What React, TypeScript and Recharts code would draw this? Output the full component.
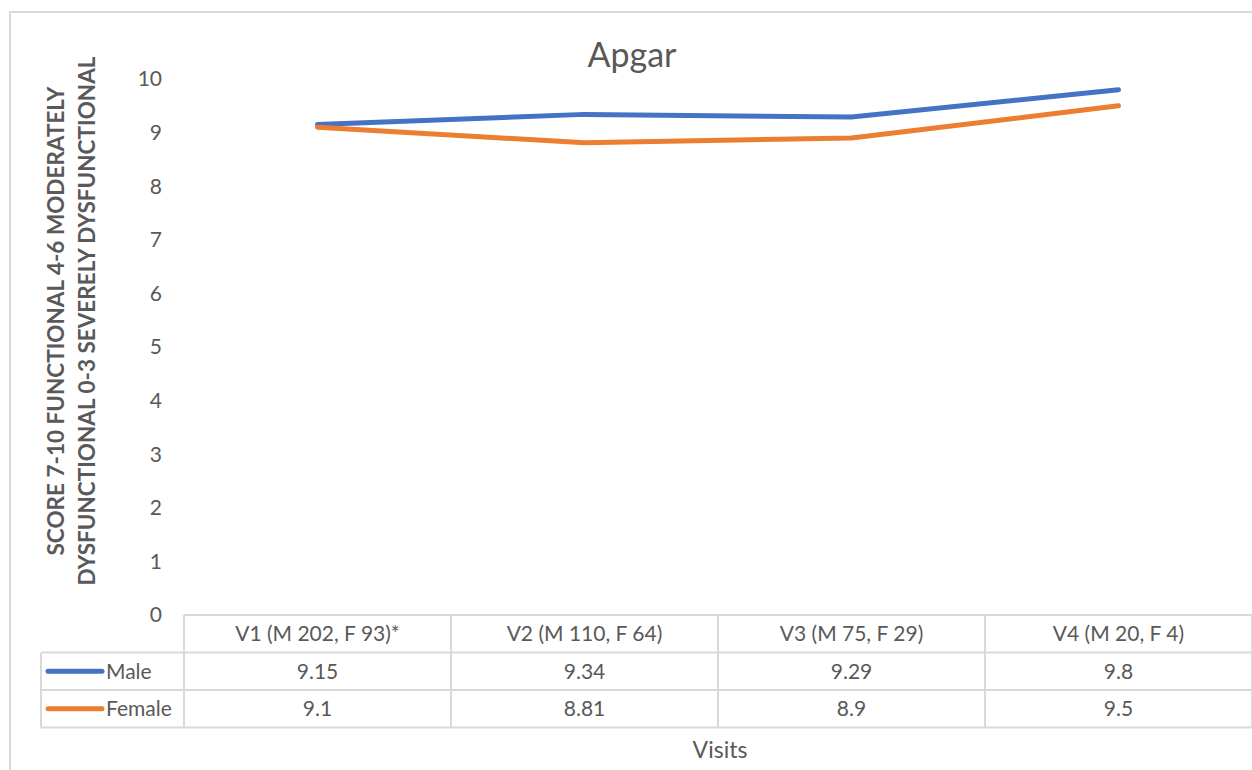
import React from "react";
import { LineChart, Line, XAxis, YAxis } from "recharts";

// Visits (categories) and the Apgar scores per sex
const visits = ["V1 (M 202, F 93)*", "V2 (M 110, F 64)", "V3 (M 75, F 29)", "V4 (M 20, F 4)"];
const male = [9.15, 9.34, 9.29, 9.8];
const female = [9.1, 8.81, 8.9, 9.5];
const yTicks = [0, 1, 2, 3, 4, 5, 6, 7, 8, 9, 10];

const seriesInfo = [
  { key: "male", name: "Male", color: "#4472C4", values: male },
  { key: "female", name: "Female", color: "#ED7D31", values: female },
];

const data = visits.map((v, i) => ({ visit: v, male: male[i], female: female[i] }));

const W = 1252;
const H = 770;
const PLOT_LEFT = 184;
const BAND = (W - PLOT_LEFT) / visits.length;
const ROW = 37.5;
const TABLE_LEFT = 41;
const GRID = "#d9d9d9";
const TEXT = "#595959";
const FONT = "Lato, 'Open Sans', sans-serif";
const FS = 21;

const TableTick = (props: any) => {
  const { x, y, payload } = props;
  const i = payload.index;
  const last = i === visits.length - 1;
  return (
    <g>
      {i === 0 && (
        <g>
          {[1, 2, 3].map((r) => (
            <line key={r} x1={TABLE_LEFT} x2={W} y1={y + ROW * r} y2={y + ROW * r} stroke={GRID} strokeWidth={2} />
          ))}
          <line x1={TABLE_LEFT} x2={TABLE_LEFT} y1={y + ROW} y2={y + ROW * 3} stroke={GRID} strokeWidth={2} />
          {seriesInfo.map((s, r) => (
            <g key={s.key}>
              <line
                x1={48}
                x2={102}
                y1={y + ROW * (r + 1.5)}
                y2={y + ROW * (r + 1.5)}
                stroke={s.color}
                strokeWidth={5}
                strokeLinecap="round"
              />
              <text x={106} y={y + ROW * (r + 1.5)} dy="0.35em" fontSize={FS} fill={TEXT} fontFamily={FONT}>
                {s.name}
              </text>
            </g>
          ))}
        </g>
      )}
      <line x1={x - BAND / 2} x2={x - BAND / 2} y1={y} y2={y + ROW * 3} stroke={GRID} strokeWidth={2} />
      {last && <line x1={x + BAND / 2} x2={x + BAND / 2} y1={y} y2={y + ROW * 3} stroke={GRID} strokeWidth={2} />}
      <text x={x} y={y + ROW * 0.5} dy="0.35em" textAnchor="middle" fontSize={FS} fill={TEXT} fontFamily={FONT}>
        {payload.value}
      </text>
      {seriesInfo.map((s, r) => (
        <text
          key={s.key}
          x={x}
          y={y + ROW * (r + 1.5)}
          dy="0.35em"
          textAnchor="middle"
          fontSize={FS}
          fill={TEXT}
          fontFamily={FONT}
        >
          {String(s.values[i])}
        </text>
      ))}
    </g>
  );
};

const YLabel = (props: any) => {
  const cy = 321;
  const lines = ["SCORE 7-10 FUNCTIONAL 4-6 MODERATELY", "DYSFUNCTIONAL 0-3 SEVERELY DYSFUNCTIONAL"];
  const xs = [56, 87];
  return (
    <g>
      {lines.map((l, k) => (
        <text
          key={k}
          x={xs[k]}
          y={cy}
          dy="0.35em"
          transform={`rotate(-90 ${xs[k]} ${cy})`}
          textAnchor="middle"
          fontSize={22.5}
          fontWeight="bold"
          fill={TEXT}
          fontFamily={FONT}
        >
          {l}
        </text>
      ))}
    </g>
  );
};

export default function App() {
  return (
    <div style={{ position: "absolute", left: 0, top: 0, width: W, height: H, overflow: "hidden", background: "#fff" }}>
      <div
        style={{
          position: "absolute",
          left: 9,
          top: 11,
          width: W + 20,
          height: H + 20,
          border: `2px solid ${GRID}`,
        }}
      />
      <div
        style={{
          position: "absolute",
          left: 0,
          width: W,
          top: 33,
          textAlign: "center",
          fontFamily: FONT,
          fontSize: 34,
          color: TEXT,
          paddingLeft: 12,
          boxSizing: "border-box",
        }}
      >
        Apgar
      </div>
      <div
        style={{
          position: "absolute",
          left: 720 - 100,
          width: 200,
          top: 735,
          textAlign: "center",
          fontFamily: FONT,
          fontSize: 23,
          color: TEXT,
        }}
      >
        Visits
      </div>
      <div style={{ position: "absolute", left: 0, top: 0 }}>
        <LineChart width={W} height={H} data={data} margin={{ top: 79, right: 0, bottom: 43, left: 124 }}>
          <XAxis
            dataKey="visit"
            height={112}
            padding={{ left: BAND / 2, right: BAND / 2 }}
            axisLine={{ stroke: GRID, strokeWidth: 2 }}
            tickLine={false}
            tickSize={0}
            tickMargin={0}
            interval={0}
            tick={<TableTick />}
          />
          <YAxis
            width={60}
            domain={[0, 10]}
            ticks={yTicks}
            axisLine={false}
            tickLine={false}
            tickMargin={16}
            tick={{ fontSize: FS, fill: TEXT, fontFamily: FONT }}
            label={<YLabel />}
          />
          {seriesInfo.map((s) => (
            <Line
              key={s.key}
              dataKey={s.key}
              name={s.name}
              type="linear"
              stroke={s.color}
              strokeWidth={5}
              strokeLinecap="round"
              dot={false}
              activeDot={false}
              isAnimationActive={false}
            />
          ))}
        </LineChart>
      </div>
    </div>
  );
}
